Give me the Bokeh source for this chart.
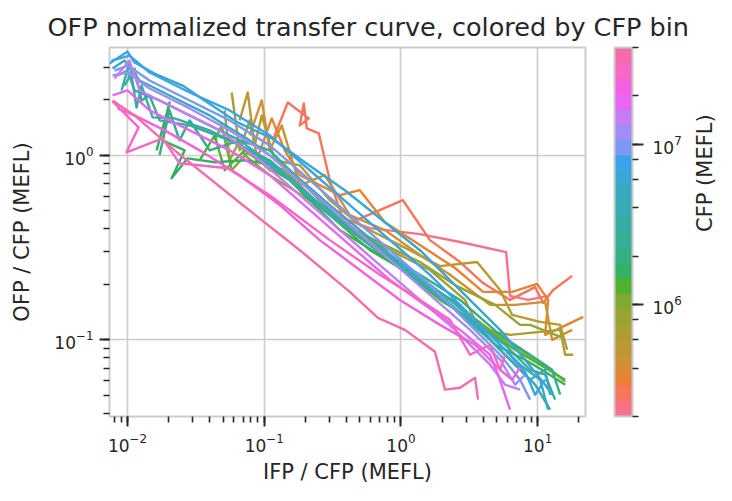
import math

import numpy as np
from bokeh.embed import file_html
from bokeh.models import (ColorBar, ColumnDataSource, FixedTicker, LinearAxis, LogColorMapper,
                          LogTicker, LogTickFormatter, Range1d)
from bokeh.plotting import figure
from bokeh.resources import INLINE
from bokeh.transform import transform

# CFP bin centres (MEFL), one transfer curve per bin
cfp_bins = [2.23e5, 2.79e5, 3.47e5, 4.33e5, 5.40e5, 6.74e5, 8.40e5, 1.05e6,
            1.31e6, 1.63e6, 2.03e6, 2.53e6, 3.16e6, 3.94e6, 4.91e6, 6.13e6,
            7.64e6, 9.53e6, 1.19e7, 1.48e7, 1.85e7, 2.30e7, 2.87e7, 3.58e7]

# IFP / CFP (MEFL) along each curve
ifp_ratio = [
    [0.328, 0.593, 1.378, 2.706, 5.88, 6.288, 8.52, 11.94],
    [0.1154, 0.1487, 0.2118, 0.1821, 0.1947, 0.2048, 0.2507, 0.3019, 0.3888, 1.034, 1.631, 2.706, 3.988, 6.288, 9.587, 10.97, 12.99, 17.89],
    [0.0852, 0.1135, 0.1413, 0.1821, 0.3019, 0.3573, 0.5007, 0.7636, 1.378, 2.487, 3.988, 6.504, 9.916, 11.94, 11.35, 13.66, 21.54],
    [0.0783, 0.0959, 0.1097, 0.1343, 0.1821, 0.2774, 0.4229, 0.7636, 1.378, 2.286, 4.487, 6.842, 11.35, 12.77, 17.89],
    [0.0661, 0.0757, 0.0852, 0.0959, 0.1194, 0.1821, 0.3019, 0.5007, 0.9833, 1.931, 3.605, 5.313, 6.504, 10.43, 14.62, 16.45],
    [0.0578, 0.0661, 0.0783, 0.0896, 0.1413, 0.2550, 0.4229, 0.8307, 1.631, 2.944, 3.792, 6.288, 14.62, 15.91, 18.20],
    [0.0514, 0.0559, 0.0661, 0.0720, 0.1097, 0.2154, 0.3888, 0.7636, 1.378, 2.487, 4.883, 7.443, 8.812, 15.38],
    [0.0434, 0.0488, 0.0578, 0.0783, 0.1097, 0.1821, 0.3019, 0.5929, 1.164, 2.286, 4.487, 7.443, 11.94, 15.91],
    [0.0337, 0.0434, 0.0514, 0.0720, 0.1009, 0.1537, 0.3019, 0.5929, 0.9833, 1.931, 3.792, 6.842, 10.43, 15.91],
    [0.01631, 0.0203, 0.01805, 0.0262, 0.0210, 0.0275, 0.0434, 0.0720, 0.1194, 0.2154, 0.3573, 0.7018, 1.378, 2.706, 4.883, 8.099, 11.35, 15.91],
    [0.01715, 0.0203, 0.0240, 0.0285, 0.0399, 0.0661, 0.1097, 0.1821, 0.3573, 0.7018, 1.378, 2.706, 5.313, 8.812, 12.77, 14.62],
    [0.00951, 0.01125, 0.01267, 0.01449, 0.01715, 0.0285, 0.0559, 0.1097, 0.2154, 0.4229, 0.8307, 1.631, 3.203, 5.78, 8.812, 11.35, 13.43],
    [0.00904, 0.01034, 0.01164, 0.01267, 0.01525, 0.0221, 0.0399, 0.0783, 0.1537, 0.3019, 0.5929, 1.164, 2.286, 4.487, 7.443, 9.587, 12.35],
    [0.00845, 0.0100, 0.01125, 0.01715, 0.0337, 0.0661, 0.1299, 0.2550, 0.5007, 0.9833, 1.931, 3.792, 6.288, 8.812, 11.35, 12.35],
    [0.00777, 0.00951, 0.01225, 0.0203, 0.0399, 0.0783, 0.1537, 0.3019, 0.5929, 1.164, 2.286, 4.487, 7.443, 10.43, 11.94],
    [0.00738, 0.0100, 0.01125, 0.01577, 0.0253, 0.0366, 0.0640, 0.1135, 0.198, 0.3888, 0.7636, 1.378, 2.706, 5.313, 8.099, 11.35, 12.77],
    [0.00763, 0.01034, 0.01449, 0.0285, 0.0559, 0.1097, 0.2154, 0.4229, 0.8307, 1.631, 3.203, 5.78, 8.099, 9.587, 11.35],
    [0.00803, 0.0100, 0.01449, 0.0285, 0.0559, 0.1097, 0.2154, 0.4229, 0.8307, 1.631, 2.944, 5.313, 7.443, 8.812],
    [0.00777, 0.0100, 0.01449, 0.0285, 0.0559, 0.1097, 0.2154, 0.4229, 0.8307, 1.631, 3.203, 5.313, 6.842, 8.099],
    [0.00803, 0.01034, 0.01225, 0.0240, 0.0472, 0.0927, 0.1821, 0.3573, 0.7018, 1.378, 2.487, 4.487, 5.78, 7.443],
    [0.00777, 0.0100, 0.01449, 0.0285, 0.0559, 0.1097, 0.2154, 0.4229, 0.8307, 1.499, 2.706, 4.487, 5.135, 6.288],
    [0.00845, 0.01125, 0.01867, 0.0337, 0.0661, 0.1299, 0.2550, 0.5007, 0.9833, 1.931, 3.485, 5.313, 6.504, 7.443],
    [0.00777, 0.01204, 0.00983, 0.01805, 0.0240, 0.0540, 0.1097, 0.3019, 0.7018, 1.378, 2.286, 3.203, 4.487, 5.313, 5.78],
    [0.00777, 0.01125, 0.0221, 0.0629, 0.1821, 0.4229, 0.6785, 1.070, 1.775, 2.101, 2.706, 3.485, 3.666],
]

# OFP / CFP (MEFL) along each curve
ofp_ratio = [
    [0.474, 0.403, 0.374, 0.339, 0.299, 0.173, 0.1645, 0.173],
    [1.205, 1.934, 1.585, 1.452, 1.910, 1.399, 1.315, 0.733, 0.418, 0.571, 0.347, 0.264, 0.203, 0.1645, 0.193, 0.1585, 0.186, 0.222],
    [0.883, 1.585, 1.064, 0.780, 0.647, 0.608, 0.647, 0.434, 0.326, 0.245, 0.182, 0.182, 0.201, 0.1645, 0.1064, 0.1132, 0.1331],
    [1.283, 1.983, 1.064, 1.452, 0.688, 0.780, 0.474, 0.393, 0.288, 0.225, 0.1546, 0.1546, 0.1605, 0.100, 0.1132],
    [1.546, 2.190, 1.132, 1.645, 0.940, 0.883, 0.571, 0.418, 0.326, 0.251, 0.264, 0.186, 0.1365, 0.1251, 0.1205, 0.0883],
    [2.190, 1.064, 1.546, 0.940, 0.830, 0.537, 0.393, 0.306, 0.239, 0.1645, 0.1132, 0.1064, 0.1132, 0.0830, 0.0830],
    [1.751, 0.940, 1.205, 1.000, 0.780, 0.571, 0.418, 0.326, 0.264, 0.198, 0.1546, 0.1205, 0.1205, 0.1025],
    [1.205, 1.452, 0.830, 1.064, 0.830, 0.733, 0.504, 0.347, 0.239, 0.1645, 0.1132, 0.0883, 0.0706, 0.0593],
    [0.940, 1.283, 0.830, 1.064, 0.883, 0.733, 0.474, 0.306, 0.245, 0.1645, 0.1205, 0.0883, 0.0733, 0.0608],
    [1.064, 1.934, 1.205, 1.064, 0.751, 0.963, 0.917, 0.940, 0.883, 0.571, 0.393, 0.288, 0.211, 0.1546, 0.094, 0.078, 0.0671, 0.0571],
    [1.000, 1.751, 1.205, 1.546, 1.064, 1.205, 1.064, 0.733, 0.445, 0.306, 0.225, 0.1645, 0.1064, 0.083, 0.0688, 0.0504],
    [2.389, 2.953, 1.983, 2.110, 1.546, 1.452, 1.205, 0.940, 0.608, 0.393, 0.271, 0.186, 0.1283, 0.094, 0.0688, 0.0647, 0.0474],
    [2.246, 3.182, 1.817, 2.389, 1.605, 1.585, 1.365, 1.064, 0.733, 0.474, 0.326, 0.225, 0.1546, 0.100, 0.0688, 0.0571, 0.0418],
    [2.706, 2.880, 2.246, 1.983, 1.546, 1.205, 0.830, 0.537, 0.370, 0.254, 0.175, 0.1132, 0.078, 0.0608, 0.0688, 0.0504],
    [2.953, 3.262, 2.543, 2.110, 1.645, 1.205, 0.830, 0.537, 0.356, 0.239, 0.1645, 0.1064, 0.0733, 0.0608, 0.0418],
    [3.143, 3.650, 3.182, 2.775, 2.389, 1.983, 1.508, 1.236, 0.917, 0.647, 0.434, 0.306, 0.186, 0.1132, 0.078, 0.0571, 0.0504],
    [3.262, 3.471, 2.810, 2.190, 1.751, 1.283, 0.830, 0.537, 0.347, 0.225, 0.1365, 0.0883, 0.0671, 0.0504, 0.0608],
    [2.880, 3.066, 2.543, 1.983, 1.546, 1.132, 0.733, 0.474, 0.306, 0.198, 0.1283, 0.083, 0.0608, 0.0474],
    [2.706, 2.810, 2.302, 1.795, 1.365, 1.000, 0.647, 0.418, 0.271, 0.175, 0.1132, 0.078, 0.0571, 0.0647],
    [2.608, 3.262, 2.246, 1.751, 1.365, 0.940, 0.608, 0.393, 0.254, 0.1645, 0.1132, 0.0733, 0.0571, 0.0537],
    [2.110, 2.246, 1.751, 1.365, 1.064, 0.780, 0.504, 0.326, 0.211, 0.1546, 0.1132, 0.083, 0.0647, 0.0418],
    [1.795, 1.645, 1.365, 1.064, 0.780, 0.537, 0.347, 0.239, 0.1645, 0.1205, 0.094, 0.0688, 0.0608, 0.0706],
    [1.958, 1.417, 1.038, 1.236, 0.905, 0.851, 0.608, 0.347, 0.225, 0.1645, 0.1283, 0.083, 0.094, 0.0688, 0.083],
    [1.983, 1.645, 1.064, 0.571, 0.306, 0.182, 0.1315, 0.1132, 0.0861, 0.0537, 0.0550, 0.0623, 0.0474],
]

CFP_LOW, CFP_HIGH = 2.0e5, 4.0e7

FONT = "DejaVu Sans"
INK = "#262626"
SPINE = "#cccccc"

# --- HUSL palette (same construction as seaborn's "husl" palette) ---
_M = [[3.2406, -1.5372, -0.4986],
      [-0.9689, 1.8758, 0.0415],
      [0.0557, -0.2040, 1.0570]]


def _max_chroma(L, H):
    hrad = math.radians(H)
    sin_h, cos_h = math.sin(hrad), math.cos(hrad)
    sub1 = (L + 16) ** 3 / 1560896.0
    sub2 = sub1 if sub1 > 0.008856 else L / 903.3
    best = float("inf")
    for m1, m2, m3 in _M:
        top = (0.99915 * m1 + 1.05122 * m2 + 1.14460 * m3) * sub2
        rbottom = 0.86330 * m3 - 0.17266 * m2
        lbottom = 0.12949 * m3 - 0.38848 * m1
        bottom = (rbottom * sin_h + lbottom * cos_h) * sub2
        for t in (0.0, 1.0):
            c = L * (top - 1.05122 * t) / (bottom + 0.17266 * sin_h * t)
            if 0.0 < c < best:
                best = c
    return best


def _from_linear(c):
    return 12.92 * c if c <= 0.0031308 else 1.055 * c ** (1 / 2.4) - 0.055


def husl_to_hex(h, s, l):
    chroma = _max_chroma(l, h) / 100.0 * s
    hrad = math.radians(h)
    u, v = math.cos(hrad) * chroma, math.sin(hrad) * chroma
    t = (l + 16.0) / 116.0
    y = t ** 3 if t ** 3 > 0.008856 else l / 903.3
    var_u = u / (13.0 * l) + 0.19784
    var_v = v / (13.0 * l) + 0.46834
    x = -(9.0 * y * var_u) / ((var_u - 4.0) * var_v - var_u * var_v)
    z = (9.0 * y - 15.0 * var_v * y - var_v * x) / (3.0 * var_v)
    rgb = []
    for row in _M:
        c = _from_linear(row[0] * x + row[1] * y + row[2] * z)
        rgb.append(int(round(min(max(c, 0.0), 1.0) * 255)))
    return "#%02x%02x%02x" % tuple(rgb)


def husl_palette(n, h=0.01, s=0.9, l=0.65):
    hues = (np.linspace(0, 1, n + 1)[:-1] + h) % 1 * 359
    return [husl_to_hex(hh, s * 99, l * 99) for hh in hues]


palette = husl_palette(len(cfp_bins))
mapper = LogColorMapper(palette=palette, low=CFP_LOW, high=CFP_HIGH)

X_RANGE = (0.00738, 22.4)
Y_RANGE = (0.0384, 3.84)

p = figure(
    width=732, height=501,
    x_axis_type="log", y_axis_type="log",
    x_range=Range1d(*X_RANGE), y_range=Range1d(*Y_RANGE),
    min_border_left=109, min_border_right=147, min_border_top=47, min_border_bottom=85,
    output_backend="svg", toolbar_location=None,
    title="OFP normalized transfer curve, colored by CFP bin",
)
p.background_fill_color = "white"
p.border_fill_color = "white"
p.outline_line_color = SPINE
p.outline_line_width = 2

p.title.text_font = FONT
p.title.text_font_size = "25.5px"
p.title.text_font_style = "normal"
p.title.text_color = INK
p.title.align = "left"
p.title.offset = -62
p.title.standoff = 12

p.grid.grid_line_color = SPINE
p.grid.grid_line_width = 1.6

p.xaxis.axis_label = "IFP / CFP (MEFL)"
p.yaxis.axis_label = "OFP / CFP (MEFL)"
for ax in (p.xaxis, p.yaxis):
    ax.axis_line_color = None
    ax.major_tick_line_color = INK
    ax.major_tick_line_width = 2
    ax.major_tick_out = 10
    ax.major_tick_in = 0
    ax.minor_tick_line_color = INK
    ax.minor_tick_line_width = 1.6
    ax.minor_tick_out = 6
    ax.minor_tick_in = 0
    ax.major_label_text_font = FONT
    ax.major_label_text_font_size = "17px"
    ax.major_label_text_color = INK
    ax.major_label_standoff = 6
    ax.axis_label_text_font = FONT
    ax.axis_label_text_font_size = "21px"
    ax.axis_label_text_font_style = "normal"
    ax.axis_label_text_color = INK
p.xaxis.axis_label_standoff = 5
p.yaxis.axis_label_standoff = 17

source = ColumnDataSource(dict(xs=ifp_ratio, ys=ofp_ratio, cfp=cfp_bins))
p.multi_line("xs", "ys", source=source, line_color=transform("cfp", mapper),
             line_width=2.4, line_join="round")

color_bar = ColorBar(
    color_mapper=mapper,
    ticker=LogTicker(),
    formatter=LogTickFormatter(),
    location=(29, 0),
    width=18, height=369,
    padding=0, margin=0,
    bar_line_color=SPINE, bar_line_width=2,
    border_line_color=None, background_fill_color=None,
    major_tick_in=0, major_tick_out=11, minor_tick_in=0, minor_tick_out=6,
    major_tick_line_color=INK, major_tick_line_width=2,
    minor_tick_line_color=INK, minor_tick_line_width=1.6,
    major_label_text_font=FONT, major_label_text_font_size="17px",
    major_label_text_color=INK, label_standoff=9,
)
p.add_layout(color_bar, "right")

# caption for the colour bar: a bare right-hand axis carrying only its label
cfp_caption = LinearAxis(
    axis_label="CFP (MEFL)",
    ticker=FixedTicker(ticks=[]),
    axis_line_color=None,
    major_tick_line_color=None,
    minor_tick_line_color=None,
    major_label_text_font_size="0px",
    axis_label_standoff=20,
    axis_label_orientation=math.pi / 2,
    axis_label_text_font=FONT,
    axis_label_text_font_size="21px",
    axis_label_text_font_style="normal",
    axis_label_text_color=INK,
)
p.add_layout(cfp_caption, "right")

open("out.html", "w").write(file_html(p, INLINE))
